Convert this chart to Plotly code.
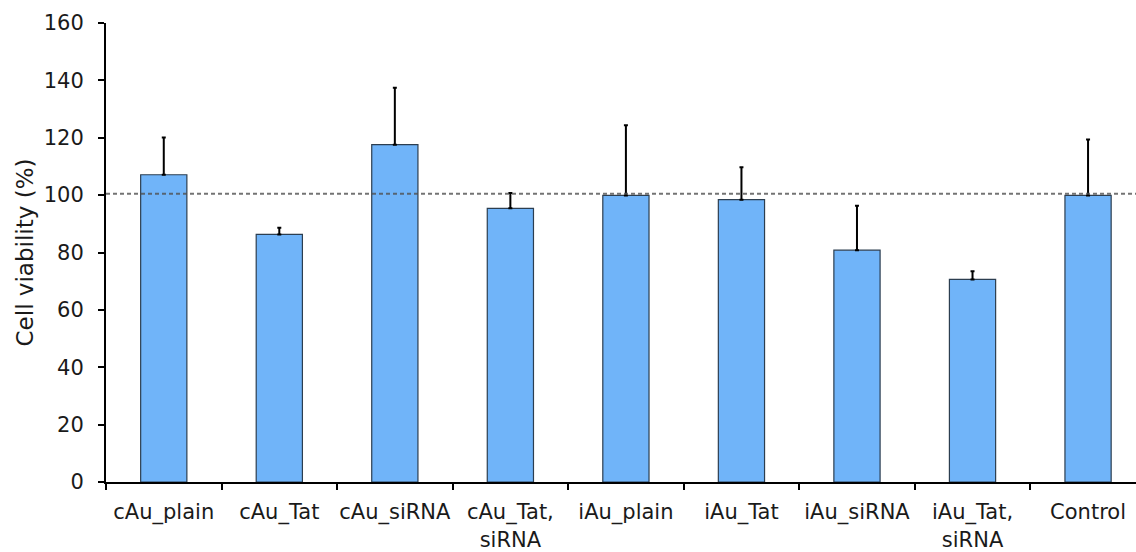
import plotly.graph_objects as go

categories = ["cAu_plain", "cAu_Tat", "cAu_siRNA", "cAu_Tat,<br>siRNA", "iAu_plain",
              "iAu_Tat", "iAu_siRNA", "iAu_Tat,<br>siRNA", "Control"]
viability = [107.1, 86.3, 117.6, 95.4, 99.9, 98.4, 80.8, 70.6, 99.9]
error_upper = [13.0, 2.3, 19.8, 5.3, 24.5, 11.3, 15.5, 2.9, 19.5]
reference_level = 100.5
y_ticks = [0, 20, 40, 60, 80, 100, 120, 140, 160]

FONT = "DejaVu Sans"
TICK_SIZE = 21

fig = go.Figure()
fig.add_trace(go.Bar(
    x=categories, y=viability, width=0.4,
    marker=dict(color="#70b4f9", line=dict(color="#2c3e50", width=1.2)),
    error_y=dict(type="data", symmetric=False, array=error_upper,
                 arrayminus=[0]*len(error_upper),
                 color="#000000", thickness=2, width=2),
    showlegend=False,
))

fig.add_shape(type="line", xref="paper", x0=0, x1=1, yref="y",
              y0=reference_level, y1=reference_level,
              line=dict(color="rgba(80,80,80,0.8)", width=2, dash="4px,3px"),
              layer="above")

fig.update_layout(
    width=1136, height=552,
    margin=dict(l=106, r=0, t=23, b=70),
    paper_bgcolor="white", plot_bgcolor="white",
    font=dict(family=FONT, size=TICK_SIZE, color="#1a1a1a"),
    bargap=0.6,
)
fig.update_xaxes(
    type="category", range=[-0.5, 8.415],
    showline=True, linecolor="black", linewidth=2,
    ticks="outside", tickson="boundaries", ticklen=6, tickwidth=2, tickcolor="black",
    tickfont=dict(family=FONT, size=TICK_SIZE, color="#1a1a1a"),
    tickangle=0, automargin=False,
    ticklabelstandoff=10,
    showgrid=False, zeroline=False,
)
fig.update_yaxes(
    range=[0, 160], tickvals=y_ticks,
    showline=True, linecolor="black", linewidth=2,
    ticks="outside", ticklen=6, tickwidth=2, tickcolor="black",
    tickfont=dict(family=FONT, size=TICK_SIZE, color="#1a1a1a"),
    ticklabelstandoff=10, automargin=False,
    showgrid=False, zeroline=False,
    title=dict(text="Cell viability (%)", font=dict(family=FONT, size=23, color="#1a1a1a"),
               standoff=4),
)

fig.write_html("out.html")
